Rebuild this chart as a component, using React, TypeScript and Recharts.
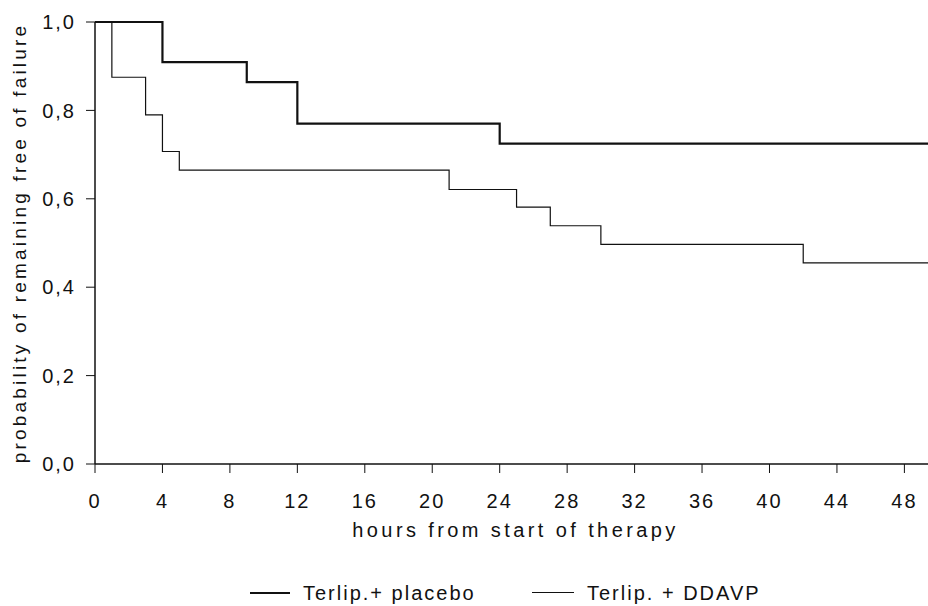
import React from 'react';
import { LineChart, Line, XAxis, YAxis, Legend, Label } from 'recharts';

const xTicks = [0, 4, 8, 12, 16, 20, 24, 28, 32, 36, 40, 44, 48];
const yTicks = [0, 0.2, 0.4, 0.6, 0.8, 1.0];

const placeboHours = [0, 4, 9, 12, 24, 49.4];
const placeboValues = [1.0, 0.909, 0.864, 0.77, 0.725, 0.725];

const ddavpHours = [0, 1, 3, 4, 5, 21, 25, 27, 30, 42, 49.4];
const ddavpValues = [1.0, 0.875, 0.79, 0.707, 0.665, 0.621, 0.581, 0.539, 0.497, 0.455, 0.455];

const seriesNames = ['Terlip.+ placebo', 'Terlip. + DDAVP'];

const placeboData = placeboHours.map((t, i) => ({ t, p: placeboValues[i] }));
const ddavpData = ddavpHours.map((t, i) => ({ t, p: ddavpValues[i] }));

const FONT = '"Liberation Sans", Arial, sans-serif';
const INK = '#111';

const LegendContent = () => (
  <div style={{ position: 'relative', width: 928, height: 26, fontFamily: FONT, fontSize: 20, letterSpacing: 2, color: INK }}>
    <div style={{ position: 'absolute', left: 250, top: 12, width: 40, height: 2, background: INK }} />
    <div style={{ position: 'absolute', left: 303, top: 0, whiteSpace: 'nowrap', lineHeight: '26px' }}>{seriesNames[0]}</div>
    <div style={{ position: 'absolute', left: 532, top: 12, width: 42, height: 1, background: INK }} />
    <div style={{ position: 'absolute', left: 587, top: 0, whiteSpace: 'nowrap', lineHeight: '26px' }}>{seriesNames[1]}</div>
  </div>
);

export default function App() {
  return (
    <div style={{ position: 'absolute', left: 0, top: 0, width: 928, height: 606, background: '#fff' }}>
      <LineChart width={928} height={606} margin={{ top: 22, right: 0, left: 0, bottom: 0 }}>
        <XAxis
          dataKey="t"
          type="number"
          domain={[0, 49.4]}
          ticks={xTicks}
          allowDataOverflow
          height={142}
          tickSize={9}
          tickMargin={21}
          stroke={INK}
          tick={{ fill: INK, fontSize: 20, fontFamily: FONT, letterSpacing: 2 }}
          axisLine={{ stroke: INK, strokeWidth: 1.5 }}
          tickLine={{ stroke: INK, strokeWidth: 1 }}
        >
          <Label
            content={(props: any) => {
              const vb = props.viewBox || {};
              return (
                <text
                  x={vb.x + vb.width / 2 + 4}
                  y={vb.y + 73}
                  textAnchor="middle"
                  fill={INK}
                  fontSize={20}
                  fontFamily={FONT}
                  letterSpacing={3.4}
                >
                  hours from start of therapy
                </text>
              );
            }}
          />
        </XAxis>
        <YAxis
          type="number"
          domain={[0, 1]}
          ticks={yTicks}
          width={95}
          tickSize={9}
          tickMargin={10}
          stroke={INK}
          tickFormatter={(v: number) => v.toFixed(1).replace('.', ',')}
          tick={{ fill: INK, fontSize: 20, fontFamily: FONT, letterSpacing: 2 }}
          axisLine={{ stroke: INK, strokeWidth: 1.5 }}
          tickLine={{ stroke: INK, strokeWidth: 1 }}
        >
          <Label
            content={(props: any) => {
              const vb = props.viewBox || {};
              const cy = vb.y + vb.height / 2;
              return (
                <text
                  x={26}
                  y={cy}
                  transform={`rotate(-90, 26, ${cy})`}
                  textAnchor="middle"
                  fill={INK}
                  fontSize={19}
                  fontFamily={FONT}
                  letterSpacing={3.2}
                >
                  probability of remaining free of failure
                </text>
              );
            }}
          />
        </YAxis>
        <Legend
          layout="horizontal"
          verticalAlign="middle"
          align="center"
          content={LegendContent}
          wrapperStyle={{ position: 'absolute', top: 580, left: 0, width: 928, height: 26 }}
        />
        <Line
          data={placeboData}
          dataKey="p"
          name={seriesNames[0]}
          type="stepAfter"
          stroke={INK}
          strokeWidth={2.2}
          dot={false}
          activeDot={false}
          isAnimationActive={false}
        />
        <Line
          data={ddavpData}
          dataKey="p"
          name={seriesNames[1]}
          type="stepAfter"
          stroke={INK}
          strokeWidth={1.2}
          dot={false}
          activeDot={false}
          isAnimationActive={false}
        />
      </LineChart>
    </div>
  );
}
